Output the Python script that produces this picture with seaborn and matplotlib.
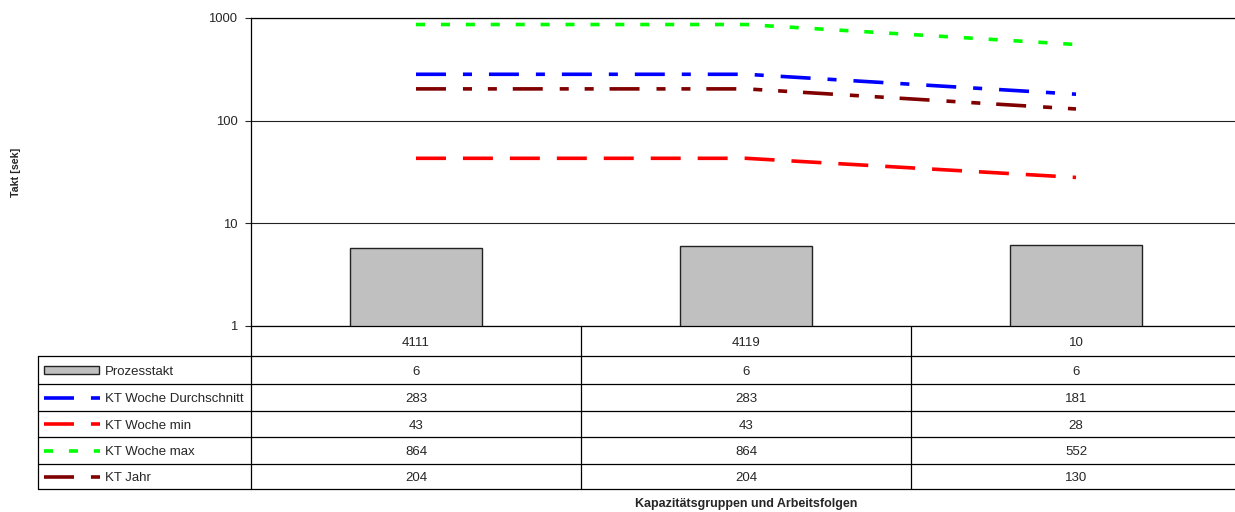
import numpy as np
import pandas as pd
import seaborn as sns
import matplotlib.pyplot as plt
from matplotlib.lines import Line2D
from matplotlib.patches import Rectangle
from matplotlib.ticker import FuncFormatter, NullLocator

# ── Data ───────────────────────────────────────────────────────────────────────
categories   = ["4111", "4119", "10"]
prozesstakt  = [5.7, 6.0, 6.1]
kt_woche_avg = [283, 283, 181]
kt_woche_min = [43, 43, 28]
kt_woche_max = [864, 864, 552]
kt_jahr      = [204, 204, 130]

bar_name     = "Prozesstakt"
series_names = ["KT Woche Durchschnitt", "KT Woche min", "KT Woche max", "KT Jahr"]
series_vals  = [kt_woche_avg, kt_woche_min, kt_woche_max, kt_jahr]

colors = {
    "KT Woche Durchschnitt": "#0000FF",
    "KT Woche min":          "#FF0000",
    "KT Woche max":          "#00FF00",
    "KT Jahr":               "#800000",
}
# dash patterns in linewidth units (lw = 2.6pt ~ 3.6px)
dashes = {
    "KT Woche Durchschnitt": (8.3, 4.7, 2.5, 4.7),
    "KT Woche min":          (8.3, 4.7),
    "KT Woche max":          (2.5, 4.4),
    "KT Jahr":               (8.3, 4.7, 2.5, 4.4, 2.5, 4.4),
}
LW = 2.6

lines = pd.DataFrame({
    "pos":    np.tile(np.arange(len(categories)), len(series_names)),
    "value":  np.concatenate(series_vals),
    "series": np.repeat(series_names, len(categories)),
})

# ── Figure ─────────────────────────────────────────────────────────────────────
sns.set_style("white")
plt.rcParams["font.family"] = ["Liberation Sans", "DejaVu Sans"]

W, H = 1235, 512
fig = plt.figure(figsize=(W / 100, H / 100), dpi=100)

ax_left, ax_right, ax_top, ax_bot = 251, 1241, 18, 326
tab_bot = 489
ax = fig.add_axes([ax_left / W, 1 - ax_bot / H, (ax_right - ax_left) / W, (ax_bot - ax_top) / H])

sns.barplot(x=categories, y=prozesstakt, color="#C0C0C0", saturation=1,
            edgecolor="#222222", linewidth=1.0, width=0.4, ax=ax)
sns.lineplot(data=lines, x="pos", y="value", hue="series", style="series",
             palette=colors, dashes=dashes, linewidth=LW, legend=False, ax=ax)

ax.set_yscale("log")
ax.set_ylim(1, 1000)
ax.set_xlim(-0.5, len(categories) - 0.5)
ax.yaxis.set_minor_locator(NullLocator())
ax.yaxis.set_major_formatter(FuncFormatter(lambda v, p: f"{v:g}"))
ax.yaxis.grid(True, which="major", color="#222222", lw=0.8)
ax.xaxis.grid(False)
ax.set_axisbelow(True)
ax.set_xlabel("")
ax.set_ylabel("")
ax.tick_params(axis="y", length=4.3, width=0.8, pad=5.5, labelsize=9.4, left=True, direction="out")
ax.tick_params(axis="x", length=0, labelbottom=False)
for side in ["left", "bottom", "top"]:
    ax.spines[side].set_color("black")
    ax.spines[side].set_linewidth(0.9)
ax.spines["right"].set_visible(False)

# ── Data table ─────────────────────────────────────────────────────────────────
tab = fig.add_axes([ax_left / W, 1 - tab_bot / H, (ax_right - ax_left) / W, (tab_bot - ax_bot) / H])
row_edges = [0, 30, 58, 85, 111, 138, 163]
tab.set_xlim(-0.5, len(categories) - 0.5)
tab.set_ylim(row_edges[-1], 0)
tab.axis("off")

def px2x(px):
    return -0.5 + (px - ax_left) / ((ax_right - ax_left) / len(categories))

x_leg = px2x(38)
line_kw = dict(color="black", lw=0.9, clip_on=False)
for e in row_edges[1:]:
    tab.plot([x_leg, len(categories) - 0.5], [e, e], **line_kw)
for xv in np.arange(len(categories) + 1) - 0.5:
    tab.plot([xv, xv], [row_edges[0], row_edges[-1]], **line_kw)
tab.plot([x_leg, x_leg], [row_edges[1], row_edges[-1]], **line_kw)

def row_mid(r):
    return (row_edges[r] + row_edges[r + 1]) / 2

TXT_DY = 4.7  # baseline offset below the row middle, px
FS = 9.5
for i, cat in enumerate(categories):
    tab.text(i, row_mid(0) + TXT_DY, cat, ha="center", va="baseline", fontsize=FS)

row_labels = [bar_name] + series_names
row_values = [prozesstakt] + series_vals
for r, (lab, vals) in enumerate(zip(row_labels, row_values), start=1):
    yc = row_mid(r)
    for i, v in enumerate(vals):
        tab.text(i, yc + TXT_DY, f"{v:.0f}", ha="center", va="baseline", fontsize=FS)
    if lab == bar_name:
        tab.add_patch(Rectangle((px2x(44), yc - 4), px2x(99) - px2x(44), 8,
                                facecolor="#C0C0C0", edgecolor="#222222", lw=1.0, clip_on=False))
    else:
        tab.add_line(Line2D([px2x(44), px2x(100)], [yc, yc], color=colors[lab], lw=LW,
                            dashes=dashes[lab], clip_on=False))
    tab.text(px2x(105), yc + TXT_DY, lab, ha="left", va="baseline", fontsize=FS, clip_on=False)

# ── Axis titles ────────────────────────────────────────────────────────────────
fig.text(16 / W, 1 - 172 / H, "Takt [sek]", rotation=90, ha="center", va="center",
         fontsize=7.7, fontweight="bold")
fig.text(746 / W, 1 - 504 / H, "Kapazitätsgruppen und Arbeitsfolgen", ha="center", va="center",
         fontsize=9, fontweight="bold")

fig.savefig("out.png", dpi=100)
